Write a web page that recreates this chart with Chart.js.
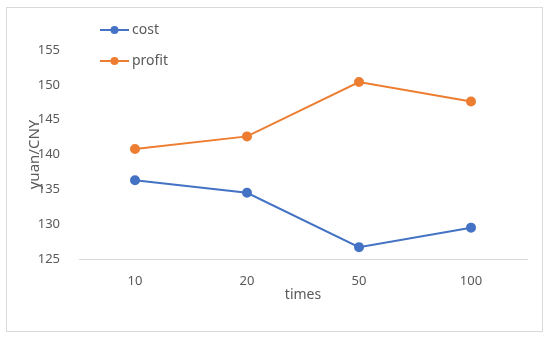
<!DOCTYPE html>
<html>
<head>
<meta charset="utf-8">
<script src="https://cdn.jsdelivr.net/npm/chart.js@4"></script>
<style>
  html, body { margin: 0; padding: 0; background: #fff; }
  .wrap { position: relative; width: 550px; height: 337px; }
  .frame { position: absolute; left: 6px; top: 7px; width: 537px; height: 325px; border: 1px solid #d9d9d9; box-sizing: border-box; }
  canvas { position: absolute; left: 0; top: 0; }
</style>
</head>
<body>
<div class="wrap">
  <div class="frame"></div>
  <canvas id="chart" width="550" height="337"></canvas>
</div>
<script>
const categories = ['10', '20', '50', '100'];
const cost = [136.3, 134.5, 126.7, 129.5];
const profit = [140.8, 142.6, 150.4, 147.6];
const yTicks = [125, 130, 135, 140, 145, 150, 155];

const textColor = '#595959';
const fontFamily = '"Noto Sans", "DejaVu Sans", sans-serif';

// legend drawn inside the plot, stacked at top left
const sideLegend = {
  id: 'sideLegend',
  afterDraw(chart) {
    const ctx = chart.ctx;
    ctx.save();
    ctx.font = '14px ' + fontFamily;
    ctx.textBaseline = 'middle';
    chart.data.datasets.forEach((ds, i) => {
      const y = 30 + i * 31;
      ctx.strokeStyle = ds.borderColor;
      ctx.lineWidth = 2;
      ctx.beginPath(); ctx.moveTo(100, y); ctx.lineTo(129, y); ctx.stroke();
      ctx.fillStyle = ds.backgroundColor;
      ctx.beginPath(); ctx.arc(114.5, y, 4, 0, Math.PI * 2); ctx.fill();
      ctx.fillStyle = textColor;
      ctx.fillText(ds.label, 132, y);
    });
    ctx.restore();
  }
};

new Chart(document.getElementById('chart'), {
  type: 'line',
  data: {
    labels: categories,
    datasets: [
      { label: 'cost', data: cost, borderColor: '#4472C4', backgroundColor: '#4472C4', borderWidth: 2, pointRadius: 4, pointHoverRadius: 4, tension: 0 },
      { label: 'profit', data: profit, borderColor: '#ED7D31', backgroundColor: '#ED7D31', borderWidth: 2, pointRadius: 4, pointHoverRadius: 4, tension: 0 }
    ]
  },
  options: {
    responsive: false,
    animation: false,
    layout: { padding: { top: 50, right: 23, left: 20, bottom: 0 } },
    plugins: { legend: { display: false }, tooltip: { enabled: false } },
    scales: {
      x: {
        offset: true,
        grid: { display: false },
        border: { display: true, color: '#d9d9d9', width: 1 },
        ticks: { color: textColor, font: { size: 13, family: fontFamily }, padding: 6 },
        title: { display: true, text: 'times', color: textColor, font: { size: 14, family: fontFamily }, padding: { bottom: 34 } },
        afterFit(scale) { scale.height = 337 - 259; }
      },
      y: {
        min: 125, max: 155,
        grid: { display: false },
        border: { display: false },
        afterBuildTicks(scale) { scale.ticks = yTicks.map(v => ({ value: v })); },
        ticks: { color: textColor, font: { size: 13, family: fontFamily }, padding: 11 },
        title: { display: true, text: 'yuan/CNY', color: textColor, font: { size: 15, family: fontFamily }, padding: { top: 6 } },
        afterFit(scale) { scale.width = 79 - 20; }
      }
    }
  },
  plugins: [sideLegend]
});
</script>
</body>
</html>
